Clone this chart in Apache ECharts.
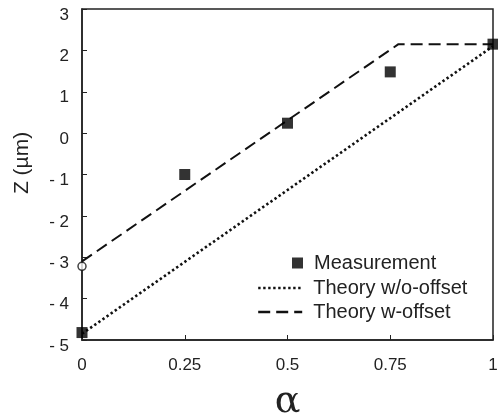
<!DOCTYPE html>
<html><head><meta charset="utf-8">
<script src="https://cdn.jsdelivr.net/npm/echarts@6/dist/echarts.min.js"></script>
<style>html,body{margin:0;padding:0;background:#fff}#c{width:498px;height:414px}</style>
</head><body><div id="c"></div>
<script>
const xTicks = [0, 0.25, 0.5, 0.75, 1];
const measAlpha = [0, 0.25, 0.5, 0.75, 1];
const measZ = [-4.82, -1.0, 0.24, 1.48, 2.15];
const noOffsetAlpha = [0, 1];
const noOffsetZ = [-4.85, 2.1];
const offsetAlpha = [0, 0.77, 1];
const offsetZ = [-3.1, 2.15, 2.15];
const offsetPointAlpha = [0];
const offsetPointZ = [-3.22];

const zip = (a, b) => a.map((v, i) => [v, b[i]]);
const font = '"Liberation Sans", Arial, sans-serif';
const chart = echarts.init(document.getElementById('c'));
chart.setOption({
  animation: false,
  grid: { left: 82, right: 5, top: 9, bottom: 74, show: true, borderColor: '#222', borderWidth: 1.5,
    backgroundColor: 'transparent', outerBoundsMode: 'none', containLabel: false },
  xAxis: {
    type: 'value', min: 0, max: 1, interval: 0.25,
    name: 'α', nameLocation: 'middle', nameGap: 43,
    nameTextStyle: { fontFamily: '"DejaVu Serif", "Liberation Serif", serif', fontSize: 38, color: '#222' },
    axisLine: { show: true, onZero: false, lineStyle: { color: '#222', width: 1.5 } },
    axisTick: { show: true, inside: true, length: 5, lineStyle: { color: '#222' } },
    axisLabel: { fontFamily: font, fontSize: 17, color: '#222', margin: 17, formatter: v => String(v) },
    splitLine: { show: false }
  },
  yAxis: {
    type: 'value', min: -5, max: 3, interval: 1,
    name: 'Z (µm)', nameLocation: 'middle', nameGap: 49, nameRotate: 90,
    nameTextStyle: { fontFamily: font, fontSize: 21, color: '#222', padding: [0, 0, 0, 23] },
    axisLine: { show: true, onZero: false, lineStyle: { color: '#222', width: 1.5 } },
    axisTick: { show: true, inside: true, length: 5, lineStyle: { color: '#222' } },
    axisLabel: { fontFamily: font, fontSize: 17, color: '#222', margin: 13, verticalAlign: 'top', lineHeight: 12,
      formatter: v => v < 0 ? '- ' + (-v) : String(v) },
    splitLine: { show: false }
  },
  legend: [
    {
      data: ['Measurement'], orient: 'vertical', left: 287, top: 248,
      itemWidth: 11, itemHeight: 11,
      textStyle: { fontFamily: font, fontSize: 20, color: '#222', padding: [0, 0, 0, 6] }
    },
    {
      data: ['Theory w/o-offset', 'Theory w-offset'], orient: 'vertical', left: 252, top: 273, itemGap: 4,
      itemWidth: 44, itemHeight: 14, itemStyle: { opacity: 0 }, lineStyle: { width: 2.4 },
      textStyle: { fontFamily: font, fontSize: 20, color: '#222', padding: [0, 0, 0, 6] }
    }
  ],
  series: [
    {
      name: 'Theory w/o-offset', type: 'line', data: zip(noOffsetAlpha, noOffsetZ),
      showSymbol: false, symbol: 'none', z: 2,
      lineStyle: { color: '#111', width: 2.6, type: [2.4, 2.6] }, itemStyle: { color: '#111' }
    },
    {
      name: 'Theory w-offset', type: 'line', data: zip(offsetAlpha, offsetZ),
      showSymbol: false, symbol: 'none', z: 2,
      lineStyle: { color: '#111', width: 2, type: [12, 6] }, itemStyle: { color: '#111' }
    },
    {
      name: 'offset', type: 'scatter', data: zip(offsetPointAlpha, offsetPointZ),
      symbol: 'circle', symbolSize: 8, clip: false, z: 4,
      itemStyle: { color: '#fff', borderColor: '#111', borderWidth: 1.5 }
    },
    {
      name: 'Measurement', type: 'scatter', data: zip(measAlpha, measZ),
      symbol: 'rect', symbolSize: 11, clip: false, z: 5,
      itemStyle: { color: '#000' }
    }
  ]
});
</script></body></html>
